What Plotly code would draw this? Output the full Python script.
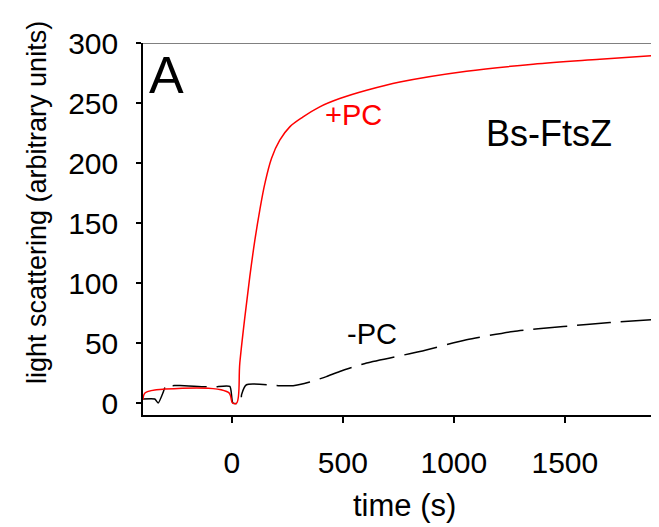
import plotly.graph_objects as go

# +PC (red, solid)
t_pc = [-400, -390, -300, -15, 3, 22, 36, 59, 81, 104, 126, 149, 179, 216, 261, 321, 396, 486, 607, 757, 1057, 1357, 1658, 1923]
v_pc = [2.7, 8.5, 11.6, 8.8, 0, 0, 33.3, 72, 105.3, 135.9, 160.8, 183, 204, 219, 230.1, 238.4, 246.8, 253.7, 260.6, 267.5, 276.5, 282.3, 286.4, 289.8]

# -PC (black, dashed)
t_mpc = [-400, -347, -332, -305, -297, -292, -234, -86, -9, 5, 40, 44, 66, 216, 276, 351, 426, 486, 607, 847, 1057, 1267, 1493, 1703, 1928]
v_mpc = [3.3, 3.3, 0, 11, 15.2, 14.5, 14.6, 13.3, 13.8, 0, 0, 7, 15.2, 14.4, 14.4, 17.5, 22, 26.3, 33.3, 42.9, 52.7, 59.6, 63.7, 67, 69.9]

x_ticks = [0, 500, 1000, 1500]
y_ticks = [0, 50, 100, 150, 200, 250, 300]

FONT = "Liberation Sans, Arial, sans-serif"

OFF = 8  # default page body margin
W, H = 659 - OFF, 527 - OFF
L, R, T, B = 143 - OFF, 0, 43 - OFF, 112

fig = go.Figure()
fig.add_trace(go.Scatter(x=t_mpc, y=v_mpc, mode="lines",
                         line=dict(color="black", width=1.5, dash="34px,10px",
                                   shape="spline", smoothing=0.6),
                         showlegend=False))
fig.add_trace(go.Scatter(x=t_pc, y=v_pc, mode="lines",
                         line=dict(color="red", width=1.5, shape="spline", smoothing=1.0),
                         showlegend=False))

fig.add_shape(type="line", xref="paper", yref="y", x0=0, x1=1, y0=300, y1=300,
              line=dict(color="#808080", width=2))

fig.add_annotation(x=-293, y=273, text="A", showarrow=False,
                   font=dict(family=FONT, size=52, color="black"))
fig.add_annotation(x=547, y=240, text="+PC", showarrow=False,
                   font=dict(family=FONT, size=29, color="red"))
fig.add_annotation(x=633, y=57.7, text="-PC", showarrow=False,
                   font=dict(family=FONT, size=29, color="black"))
fig.add_annotation(x=1429, y=225, text="Bs-FtsZ", showarrow=False,
                   font=dict(family=FONT, size=36, color="black"))

# axis titles as annotations (placed by page pixels)
pw, ph = W - L - R, H - T - B


def px_to_paper(px, py):
    fx = (px - OFF - L) / pw
    fy = (H - B - (py - OFF)) / ph
    return fx, fy


x0, y0 = px_to_paper(404, 505)
fig.add_annotation(xref="paper", yref="paper", x=x0, y=y0,
                   text="time (s)", showarrow=False, xanchor="center", yanchor="middle",
                   font=dict(family=FONT, size=31, color="black"))
x1, y1 = px_to_paper(37, 203)
fig.add_annotation(xref="paper", yref="paper", x=x1, y=y1,
                   text="light scattering (arbitrary units)", showarrow=False, textangle=-90,
                   xanchor="center", yanchor="middle",
                   font=dict(family=FONT, size=27, color="black"))

fig.update_layout(
    width=W, height=H,
    margin=dict(l=L, r=R, t=T, b=B, autoexpand=False),
    plot_bgcolor="white", paper_bgcolor="white",
    font=dict(family=FONT, color="black"),
    xaxis=dict(range=[-400, 1924], tickvals=x_ticks, ticks="outside", ticklen=6,
               tickwidth=1.5, tickcolor="black", showline=True, linecolor="black",
               linewidth=1.5, showgrid=False, zeroline=False, automargin=False,
               tickfont=dict(size=30), ticklabelstandoff=14),
    yaxis=dict(range=[-10, 300], tickvals=y_ticks, ticks="outside", ticklen=5,
               tickwidth=1.5, tickcolor="black", showline=True, linecolor="black",
               linewidth=1.5, showgrid=False, zeroline=False, automargin=False,
               tickfont=dict(size=30), ticklabelstandoff=12),
)

fig.write_html("out.html")
